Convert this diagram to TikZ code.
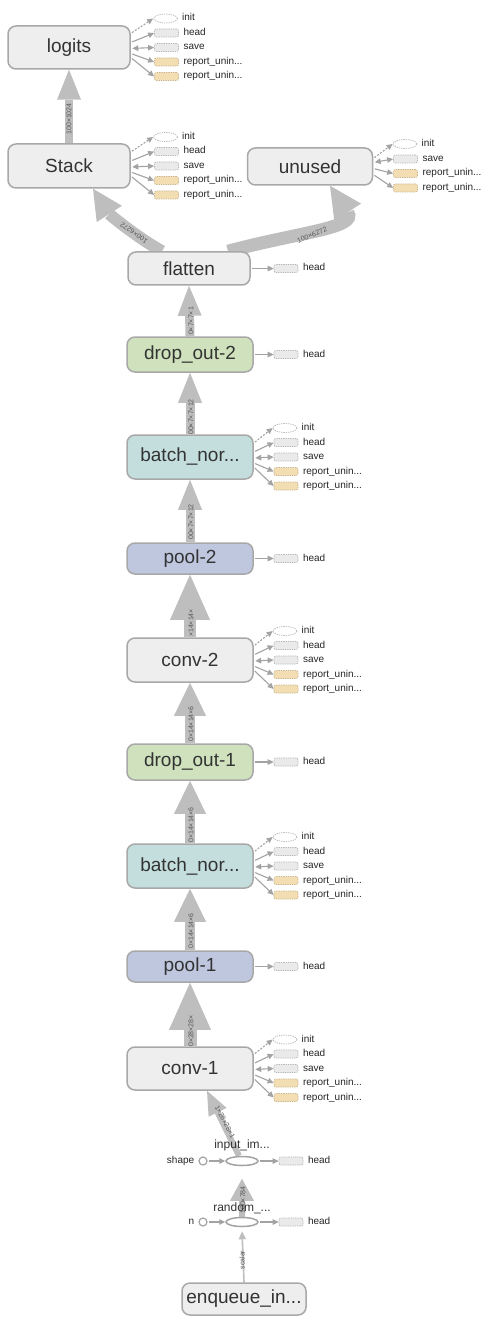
\documentclass[tikz,border=0pt]{standalone}
\usepackage{fontspec}
\setmainfont{Liberation Sans}
\usetikzlibrary{arrows.meta,shapes.geometric}
\pgfdeclarelayer{bg}
\pgfdeclarelayer{edges}
\pgfsetlayers{bg,edges,main}
\definecolor{bordc}{HTML}{A8A8A8}
\definecolor{grayf}{HTML}{EEEEEE}
\definecolor{greenf}{HTML}{CFE2BD}
\definecolor{tealf}{HTML}{C4DEDD}
\definecolor{bluef}{HTML}{BFC7DF}
\definecolor{txtc}{HTML}{333333}
\definecolor{flowc}{HTML}{BEBEBE}
\definecolor{auxc}{HTML}{A3A3A3}
\definecolor{auxbord}{HTML}{B5B5B5}
\definecolor{auxfill}{HTML}{EAEAEA}
\definecolor{repfill}{HTML}{F2DEB2}
\definecolor{repbord}{HTML}{C9B58C}
\definecolor{elabc}{HTML}{555555}
\tikzset{
  op/.style={draw=bordc, line width=1.5pt, rounded corners=8pt, fill=grayf, text=txtc,
    font=\fontsize{19}{19}\selectfont, minimum width=126pt, inner sep=0pt},
  auxbox/.style={draw=auxbord, dash pattern=on 1.3pt off 1pt, line width=0.7pt, fill=auxfill,
    rounded corners=2pt, minimum width=24pt, minimum height=8pt, inner sep=0pt},
  repbox/.style={auxbox, fill=repfill, draw=repbord},
  initn/.style={ellipse, draw=auxbord, dash pattern=on 1.3pt off 1pt, line width=0.7pt, fill=white,
    minimum width=24pt, minimum height=9pt, inner sep=0pt},
  lab/.style={font=\fontsize{10}{10}\selectfont, text=black!85, anchor=west, inner sep=0pt,
    text height=7pt, text depth=2pt},
  auxarr/.style={draw=auxc, line width=1.1pt, shorten <=1.5pt, -{Triangle[length=6pt,width=5.5pt]}},
  initarr/.style={auxarr, dash pattern=on 2pt off 1.5pt},
  savearr/.style={draw=auxc, line width=1.1pt, shorten <=1.5pt,
    {Triangle[length=6pt,width=5.5pt]}-{Triangle[length=6pt,width=5.5pt]}},
  flowarr/.style n args={3}{draw=flowc, line width=#1, -{Triangle[width=#2,length=#3,line width=0pt]}},
  elab/.style={font=\fontsize{7}{7}\selectfont, text=elabc, inner sep=0pt},
  smallc/.style={circle, draw=auxc, line width=1.2pt, fill=white, minimum size=8pt, inner sep=0pt},
  serell/.style={ellipse, draw=auxc, line width=1.5pt, fill=white, minimum width=32pt, minimum height=9pt, inner sep=0pt},
  serlab/.style={font=\fontsize{12}{12}\selectfont, text=txtc, inner sep=0pt}
}
\newcommand\fiveaux[3]{%
  \node[initn] (#1-i) at (#2-1,#3-29) {};
  \node[auxbox] (#1-h) at (#2,#3-14.5) {};
  \node[auxbox] (#1-s) at (#2,#3) {};
  \node[repbox] (#1-ra) at (#2,#3+14.5) {};
  \node[repbox] (#1-rb) at (#2,#3+29) {};
  \node[lab] at ([xshift=4pt]#1-i.east) {init};
  \node[lab] at ([xshift=4.5pt]#1-h.east) {head};
  \node[lab] at ([xshift=4.5pt]#1-s.east) {save};
  \node[lab] at ([xshift=4.5pt]#1-ra.east) {report\_unin...};
  \node[lab] at ([xshift=4.5pt]#1-rb.east) {report\_unin...};
  \begin{pgfonlayer}{edges}
    \draw[initarr] ([yshift=14pt]#1.east) -- (#1-i.west);
    \draw[auxarr] ([yshift=5pt]#1.east) -- (#1-h.west);
    \draw[savearr] ([yshift=-1pt]#1.east) -- (#1-s.west);
    \draw[auxarr] ([yshift=-6pt]#1.east) -- (#1-ra.west);
    \draw[auxarr] ([yshift=-10pt]#1.east) -- (#1-rb.west);
  \end{pgfonlayer}}
\newcommand\oneaux[3]{%
  \node[auxbox] (#1-h) at (#2,#3) {};
  \node[lab] at ([xshift=4.5pt]#1-h.east) {head};
  \begin{pgfonlayer}{edges}
    \draw[auxarr] (#1.east) -- (#1-h.west);
  \end{pgfonlayer}}
\begin{document}
\begin{tikzpicture}[x=1pt,y=-1pt]
\begin{pgfonlayer}{bg}
  \fill[white] (0,0) rectangle (492,1329);
\end{pgfonlayer}
\useasboundingbox (0,0) rectangle (492,1329);

% main op nodes
\node[op, minimum width=122pt, minimum height=43pt] (lg) at (69,47.5) {logits};
\node[op, minimum width=122pt, minimum height=44pt] (stk) at (69,166) {Stack};
\node[op, minimum width=125pt, minimum height=37pt] (unu) at (310,166.5) {unused};
\node[op, minimum width=122pt, minimum height=33pt] (flat) at (189,268.5) {flatten};
\node[op, fill=greenf, minimum height=35pt] (do2) at (190,354.5) {drop\_out-2};
\node[op, fill=tealf, minimum height=44pt] (bn2) at (190,457) {batch\_nor...};
\node[op, fill=bluef, minimum height=31pt] (pool2) at (190,558.5) {pool-2};
\node[op, minimum height=44pt] (conv2) at (190,660) {conv-2};
\node[op, fill=greenf, minimum height=36pt] (do1) at (190,762) {drop\_out-1};
\node[op, fill=tealf, minimum height=44pt] (bn1) at (190,866) {batch\_nor...};
\node[op, fill=bluef, minimum height=31pt] (pool1) at (190,966.5) {pool-1};
\node[op, minimum height=43pt] (conv1) at (190,1068.5) {conv-1};
\node[op, minimum width=124pt, minimum height=32pt] (enq) at (244,1299) {enqueue\_in...};

% series nodes
\node[serell] (inp) at (242,1161) {};
\node[serlab] at (242,1145) {input\_im...};
\node[smallc] (shp) at (203,1161) {};
\node[lab, anchor=east] at ([xshift=-4pt]shp.west) {shape};
\node[auxbox] (inp-h) at (291,1161) {};
\node[lab] at ([xshift=4.5pt]inp-h.east) {head};

\node[serell] (rnd) at (242,1222) {};
\node[serlab] at (242,1208) {random\_...};
\node[smallc] (nn) at (203,1222) {};
\node[lab, anchor=east] at ([xshift=-4pt]nn.west) {n};
\node[auxbox] (rnd-h) at (291,1222) {};
\node[lab] at ([xshift=4.5pt]rnd-h.east) {head};

% auxiliary groups
\fiveaux{lg}{166.5}{47.5}
\fiveaux{stk}{166.5}{166}
\fiveaux{bn2}{286}{457}
\fiveaux{conv2}{286}{660}
\fiveaux{bn1}{286}{866}
\fiveaux{conv1}{286}{1068.5}
\oneaux{flat}{286}{268.5}
\oneaux{do2}{286}{354.5}
\oneaux{pool2}{286}{558.5}
\oneaux{do1}{286}{762}
\oneaux{pool1}{286}{966.5}

% unused group
\node[initn] (unu-i) at (405,144) {};
\node[auxbox] (unu-s) at (405.5,159) {};
\node[repbox] (unu-ra) at (405.5,173.5) {};
\node[repbox] (unu-rb) at (405.5,188) {};
\node[lab] at ([xshift=4pt]unu-i.east) {init};
\node[lab] at ([xshift=4.5pt]unu-s.east) {save};
\node[lab] at ([xshift=4.5pt]unu-ra.east) {report\_unin...};
\node[lab] at ([xshift=4.5pt]unu-rb.east) {report\_unin...};

\begin{pgfonlayer}{edges}
  \draw[initarr] ([yshift=8pt]unu.east) -- (unu-i.west);
  \draw[savearr] ([yshift=4pt]unu.east) -- (unu-s.west);
  \draw[auxarr] ([yshift=-2pt]unu.east) -- (unu-ra.west);
  \draw[auxarr] ([yshift=-8pt]unu.east) -- (unu-rb.west);

  \draw[auxarr] (shp.east) -- (inp.west);
  \draw[auxarr] (inp.east) -- (inp-h.west);
  \draw[auxarr] (nn.east) -- (rnd.west);
  \draw[auxarr] (rnd.east) -- (rnd-h.west);

  % data flow
  \draw[flowarr={8pt}{24pt}{30pt}] (stk.north) -- (lg.south);
  \node[elab, rotate=90] at (69,119) {100×1024};

  \draw[flowarr={12pt}{30pt}{30pt}] ([xshift=-27pt]flat.north) .. controls (138,238) and (110,215) .. ([xshift=24pt]stk.south);
  \node[elab, rotate=145] at (134,233) {100×6272};

  \draw[flowarr={13pt}{32pt}{32pt}] ([xshift=39pt]flat.north) .. controls (300,232) and (358,228) .. ([xshift=20pt]unu.south);
  \node[elab, rotate=22] at (312,235) {100×6272};

  \draw[flowarr={9pt}{24pt}{30pt}] (do2.north) -- (flat.south);
  \node[elab, rotate=90] at (191,321) {0×7×7×1};
  \draw[flowarr={9pt}{24pt}{30pt}] (bn2.north) -- (do2.south);
  \node[elab, rotate=90] at (191,417) {00×7×7×12};
  \draw[flowarr={9pt}{24pt}{30pt}] (pool2.north) -- (bn2.south);
  \node[elab, rotate=90] at (191,522) {00×7×7×12};
  \draw[flowarr={12pt}{40pt}{45pt}] (conv2.north) -- (pool2.south);
  \node[elab, rotate=90] at (191,623) {×14×14×};
  \draw[flowarr={10pt}{32pt}{33pt}] (do1.north) -- (conv2.south);
  \node[elab, rotate=90] at (191,724) {0×14×14×6};
  \draw[flowarr={10pt}{32pt}{33pt}] (bn1.north) -- (do1.south);
  \node[elab, rotate=90] at (191,825) {0×14×14×6};
  \draw[flowarr={10pt}{32pt}{33pt}] (pool1.north) -- (bn1.south);
  \node[elab, rotate=90] at (191,931) {0×14×14×6};
  \draw[flowarr={13pt}{42pt}{47pt}] (conv1.north) -- (pool1.south);
  \node[elab, rotate=90] at (191,1031) {0×28×28×};

  \draw[flowarr={6pt}{20pt}{24pt}] ([xshift=-3pt]inp.north) -- ([xshift=17pt]conv1.south);
  \node[elab, rotate=-62] at (225,1122) {1×28×28×1};

  \draw[flowarr={6pt}{24pt}{22pt}] (rnd.north) -- ([yshift=-12.5pt]inp.south);
  \node[elab, rotate=90] at (243,1200) {100×784};

  \draw[draw=flowc, line width=1.6pt, -{Triangle[length=8pt,width=7pt]}] (enq.north) -- ([yshift=-4pt]rnd.south);
  \node[elab, rotate=90] at (242,1260) {scalar};
\end{pgfonlayer}
\end{tikzpicture}
\end{document}
